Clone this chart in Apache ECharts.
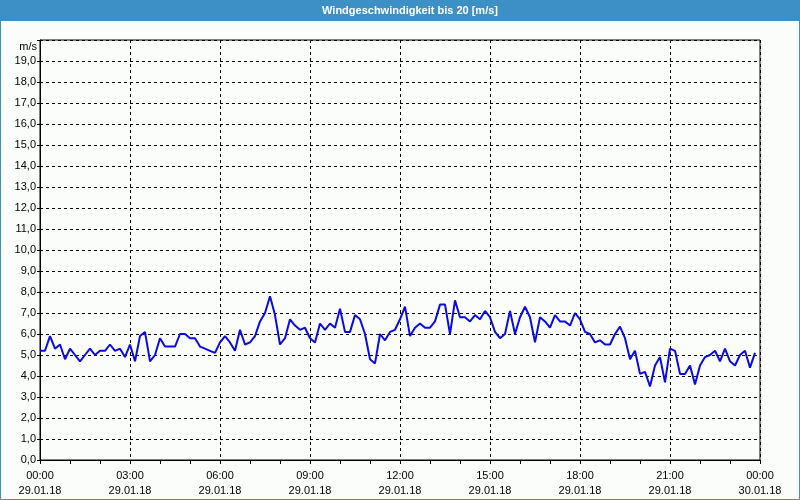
<!DOCTYPE html>
<html>
<head>
<meta charset="utf-8">
<script src="https://cdn.jsdelivr.net/npm/echarts@6/dist/echarts.min.js"></script>
<style>
html,body{margin:0;padding:0;background:#fbfdfb;}
#c{width:800px;height:500px;}
</style>
</head>
<body>
<div id="c"></div>
<script>
// Wind speed in m/s, one value every 10 minutes from 29.01.18 00:00 to 23:50
var windSpeed = [
  5.2, 5.2, 5.9, 5.3, 5.5, 4.8, 5.3, 5.0, 4.7, 5.0,
  5.3, 5.0, 5.2, 5.2, 5.5, 5.2, 5.3, 4.9, 5.5, 4.7,
  5.9, 6.1, 4.7, 5.0, 5.8, 5.4, 5.4, 5.4, 6.0, 6.0,
  5.8, 5.8, 5.4, 5.3, 5.2, 5.1, 5.6, 5.9, 5.6, 5.2,
  6.2, 5.5, 5.6, 5.9, 6.6, 7.0, 7.8, 6.9, 5.5, 5.8,
  6.7, 6.4, 6.2, 6.3, 5.8, 5.6, 6.5, 6.2, 6.5, 6.3,
  7.2, 6.1, 6.1, 6.9, 6.7, 6.0, 4.8, 4.6, 6.0, 5.7,
  6.1, 6.2, 6.7, 7.3, 5.9, 6.3, 6.5, 6.3, 6.3, 6.6,
  7.4, 7.4, 6.0, 7.6, 6.8, 6.8, 6.6, 6.9, 6.7, 7.1,
  6.8, 6.1, 5.8, 6.0, 7.1, 6.0, 6.8, 7.3, 6.8, 5.6,
  6.8, 6.6, 6.3, 6.9, 6.6, 6.6, 6.4, 7.0, 6.7, 6.1,
  6.0, 5.6, 5.7, 5.5, 5.5, 6.0, 6.35, 5.8, 4.8, 5.2,
  4.1, 4.2, 3.5, 4.5, 4.9, 3.7, 5.3, 5.2, 4.1, 4.1,
  4.5, 3.6, 4.5, 4.9, 5.0, 5.2, 4.7, 5.3, 4.7, 4.5,
  5.0, 5.2, 4.4, 5.1
];
var stepMinutes = 10;
var tickTimes = ['00:00','03:00','06:00','09:00','12:00','15:00','18:00','21:00','00:00'];
var tickDates = ['29.01.18','29.01.18','29.01.18','29.01.18','29.01.18','29.01.18','29.01.18','29.01.18','30.01.18'];
var titleText = 'Windgeschwindigkeit bis 20 [m/s]';
var unitText = 'm/s';

var seriesData = windSpeed.map(function(v, i){ return [i * stepMinutes, v]; });
var font = '"Liberation Sans", "DejaVu Sans", sans-serif';

var chart = echarts.init(document.getElementById('c'), null, {renderer:'canvas'});
chart.setOption({
  backgroundColor: '#fbfdfb',
  animation: false,
  grid: {left: 40, right: 40, top: 40, bottom: 40, show: true, borderColor: '#000', borderWidth: 1, backgroundColor: 'transparent'},
  xAxis: {
    type: 'value', min: 0, max: 1440, interval: 180,
    axisLine: {show: true, lineStyle: {color: '#000', width: 1}},
    axisTick: {show: true, length: 4, lineStyle: {color: '#000'}},
    minorTick: {show: true, splitNumber: 3, length: 4, lineStyle: {color: '#000'}},
    splitLine: {show: true, lineStyle: {color: '#000', type: [3, 3], width: 1}},
    axisLabel: {
      margin: 8, color: '#000', fontFamily: font, fontSize: 11, lineHeight: 15,
      showMinLabel: true, showMaxLabel: true,
      formatter: function(v){ var k = Math.round(v / 180); return tickTimes[k] + '\n' + tickDates[k]; }
    }
  },
  yAxis: {
    type: 'value', min: 0, max: 20, interval: 1,
    axisLine: {show: true, lineStyle: {color: '#000', width: 1}},
    axisTick: {show: true, length: 3, lineStyle: {color: '#000'}},
    splitLine: {show: true, lineStyle: {color: '#000', type: [3, 3], width: 1}},
    axisLabel: {
      margin: 4, color: '#000', fontFamily: font, fontSize: 11,
      formatter: function(v){ return v >= 20 ? '' : v.toFixed(1).replace('.', ','); }
    }
  },
  series: [{
    type: 'line', data: seriesData, showSymbol: false, symbol: 'none',
    lineStyle: {color: '#0a0ae6', width: 2}, z: 5
  }],
  graphic: [
    {type: 'rect', shape: {x: 0, y: 0, width: 800, height: 21}, style: {fill: '#3d90c6'}, z: 10},
    {type: 'rect', shape: {x: 0.5, y: 0.5, width: 799, height: 499}, style: {fill: null, stroke: '#3d90c6', lineWidth: 1}, z: 10},
    {type: 'text', z: 11, style: {text: titleText, x: 410, y: 11, align: 'center', verticalAlign: 'middle', fill: '#fff', font: 'bold 11px ' + font}},
    {type: 'text', z: 11, style: {text: unitText, x: 37, y: 47, align: 'right', verticalAlign: 'middle', fill: '#000', font: '11px ' + font}}
  ]
});
</script>
</body>
</html>
